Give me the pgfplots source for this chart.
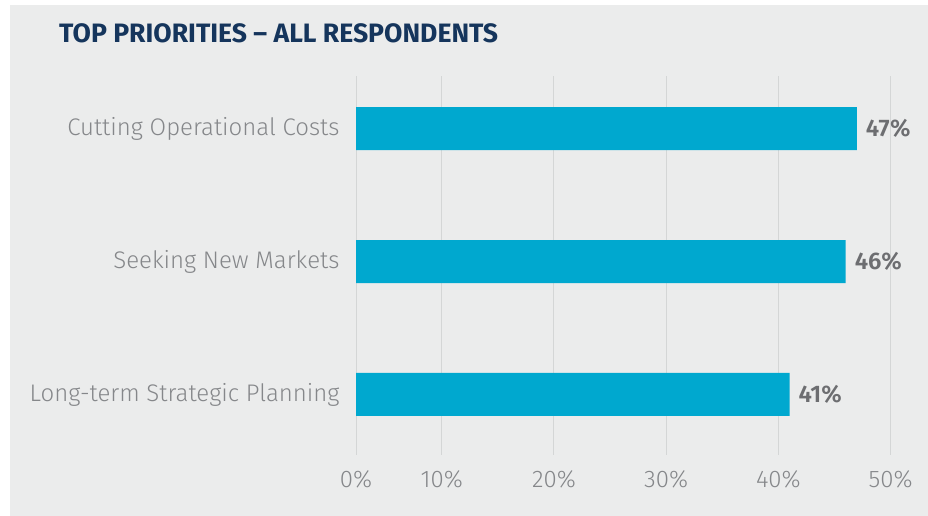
\documentclass[border=0pt]{standalone}
\usepackage{pgfplots}
\pgfplotsset{compat=1.18}
\usepackage{fontspec}
\setmainfont{Fira Sans Light}[BoldFont={Fira Sans SemiBold}]
\newfontfamily\titlefont{Fira Sans Bold}
\definecolor{bg}{HTML}{EBECEC}
\definecolor{barc}{HTML}{00A8CF}
\definecolor{gridc}{HTML}{D4D6D6}
\definecolor{labc}{HTML}{85878A}
\definecolor{valc}{HTML}{6D6E71}
\definecolor{titlec}{HTML}{15355C}
\begin{document}
\begin{tikzpicture}[x=1pt,y=1pt]
\fill[white] (0,0) rectangle (928,516);
\fill[bg] (10,0) rectangle (928,511);
\node[anchor=base west, inner sep=0pt, font=\titlefont\fontsize{26.6}{30}\selectfont, text=titlec] at (59,473.7) {TOP PRIORITIES – ALL RESPONDENTS};
\begin{axis}[
  at={(356pt,61pt)}, anchor=south west,
  scale only axis, width=534.6pt, height=379pt,
  xmin=2.36, xmax=50, ymin=-0.455, ymax=2.395,
  axis line style={draw=none},
  major tick length=0pt,
  /pgf/number format/assume math mode=true,
  xtick={2.36,10,20,30,40,50},
  xticklabels={0\%,10\%,20\%,30\%,40\%,50\%},
  xmajorgrids,
  grid style={gridc, line width=1pt},
  ytick={0,1,2},
  yticklabels={Long-term Strategic Planning, Seeking New Markets, Cutting Operational Costs},
  tick label style={text=labc, font=\fontsize{24}{28}\selectfont},
  xticklabel style={anchor=base, yshift=-33pt},
  yticklabel style={anchor=east, xshift=-13pt},
  xbar, bar width=43pt, bar shift=0pt,
  nodes near coords={\textbf{\pgfmathprintnumber{\pgfplotspointmeta}\%}},
  nodes near coords style={text=valc, font=\fontsize{24}{28}\selectfont, anchor=west, xshift=5.5pt},
  point meta=x,
]
\addplot[fill=barc, draw=none] coordinates {(41,0) (46,1) (47,2)};
\end{axis}
\end{tikzpicture}
\end{document}
